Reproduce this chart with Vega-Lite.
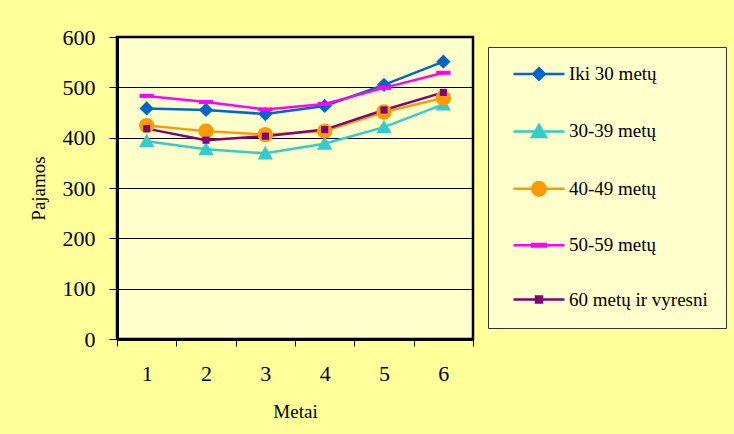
{
  "$schema": "https://vega.github.io/schema/vega-lite/v6.json",
  "autosize": "none",
  "width": 356,
  "height": 302,
  "padding": {"left": 117, "top": 37, "right": 261, "bottom": 95},
  "background": "#FFFF99",
  "config": {
    "font": "Liberation Serif, Times New Roman, serif",
    "view": {"fill": "#FFFFCC", "stroke": "#000000", "strokeWidth": 2.5},
    "axis": {
      "labelFont": "Liberation Serif, Times New Roman, serif", "labelColor": "#000000", "labelFontSize": 22,
      "titleFont": "Liberation Serif, Times New Roman, serif", "titleColor": "#000000", "titleFontSize": 19, "titleFontWeight": "normal",
      "domainColor": "#000000", "domainWidth": 3, "tickColor": "#000000", "tickWidth": 1
    }
  },
  "data": {
    "values": [
      {"year": "1", "series": "Iki 30 metų", "value": 458},
      {"year": "2", "series": "Iki 30 metų", "value": 455},
      {"year": "3", "series": "Iki 30 metų", "value": 447},
      {"year": "4", "series": "Iki 30 metų", "value": 463},
      {"year": "5", "series": "Iki 30 metų", "value": 505},
      {"year": "6", "series": "Iki 30 metų", "value": 551},
      {"year": "1", "series": "30-39 metų", "value": 393},
      {"year": "2", "series": "30-39 metų", "value": 377},
      {"year": "3", "series": "30-39 metų", "value": 369},
      {"year": "4", "series": "30-39 metų", "value": 388},
      {"year": "5", "series": "30-39 metų", "value": 421},
      {"year": "6", "series": "30-39 metų", "value": 466},
      {"year": "1", "series": "40-49 metų", "value": 424},
      {"year": "2", "series": "40-49 metų", "value": 413},
      {"year": "3", "series": "40-49 metų", "value": 406},
      {"year": "4", "series": "40-49 metų", "value": 413},
      {"year": "5", "series": "40-49 metų", "value": 451},
      {"year": "6", "series": "40-49 metų", "value": 479},
      {"year": "1", "series": "50-59 metų", "value": 483},
      {"year": "2", "series": "50-59 metų", "value": 471},
      {"year": "3", "series": "50-59 metų", "value": 456},
      {"year": "4", "series": "50-59 metų", "value": 467},
      {"year": "5", "series": "50-59 metų", "value": 499},
      {"year": "6", "series": "50-59 metų", "value": 529},
      {"year": "1", "series": "60 metų ir vyresni", "value": 418},
      {"year": "2", "series": "60 metų ir vyresni", "value": 395},
      {"year": "3", "series": "60 metų ir vyresni", "value": 403},
      {"year": "4", "series": "60 metų ir vyresni", "value": 416},
      {"year": "5", "series": "60 metų ir vyresni", "value": 455},
      {"year": "6", "series": "60 metų ir vyresni", "value": 490}
    ]
  },
  "encoding": {
    "x": {
      "field": "year", "type": "ordinal", "title": "Metai",
      "scale": {"type": "band", "paddingInner": 0, "paddingOuter": 0},
      "axis": {"labelAngle": 0, "tickBand": "extent", "tickSize": 7, "labelPadding": 17, "titlePadding": 18}
    },
    "y": {
      "field": "value", "type": "quantitative", "title": "Pajamos",
      "scale": {"domain": [0, 600], "nice": false},
      "axis": {"values": [0, 100, 200, 300, 400, 500, 600], "grid": true, "gridColor": "#000000", "gridWidth": 1, "gridOpacity": 1, "tickSize": 8, "labelPadding": 14, "titlePadding": 14}
    }
  },
  "layer": [
    {
      "mark": {"type": "line", "strokeWidth": 2.5},
      "encoding": {
        "color": {
          "field": "series", "type": "nominal", "legend": null,
          "scale": {
            "domain": ["Iki 30 metų", "30-39 metų", "40-49 metų", "50-59 metų", "60 metų ir vyresni"],
            "range": ["#0066CC", "#33CCCC", "#FF9900", "#FF00FF", "#800080"]
          }
        }
      }
    },
    {
      "mark": {"type": "point", "filled": true, "opacity": 1, "size": 2601},
      "encoding": {
        "color": {
          "field": "series", "type": "nominal", "legend": null,
          "scale": {
            "domain": ["Iki 30 metų", "30-39 metų", "40-49 metų", "50-59 metų", "60 metų ir vyresni"],
            "range": ["#0066CC", "#33CCCC", "#FF9900", "#FF00FF", "#800080"]
          }
        },
        "shape": {
          "field": "series", "type": "nominal", "legend": null,
          "scale": {
            "domain": ["Iki 30 metų", "30-39 metų", "40-49 metų", "50-59 metų", "60 metų ir vyresni"],
            "range": [
              "M0,-0.28L0.28,0L0,0.28L-0.28,0Z",
              "M0,-0.29L0.3,0.24L-0.3,0.24Z",
              "M-0.3,0A0.3,0.3 0 1,0 0.3,0A0.3,0.3 0 1,0 -0.3,0Z",
              "M-0.28,-0.08H0.28V0.08H-0.28Z",
              "M-0.14,-0.14H0.14V0.14H-0.14Z"
            ]
          }
        }
      }
    },
    {
      "transform": [{"filter": "false"}],
      "mark": {"type": "point", "filled": true, "opacity": 1, "strokeWidth": 2.5},
      "encoding": {
        "fill": {
          "field": "series", "type": "nominal",
          "scale": {
            "domain": ["Iki 30 metų", "30-39 metų", "40-49 metų", "50-59 metų", "60 metų ir vyresni"],
            "range": ["#0066CC", "#33CCCC", "#FF9900", "#FF00FF", "#800080"]
          }
        },
        "stroke": {
          "field": "series", "type": "nominal",
          "scale": {
            "domain": ["Iki 30 metų", "30-39 metų", "40-49 metų", "50-59 metų", "60 metų ir vyresni"],
            "range": ["#0066CC", "#33CCCC", "#FF9900", "#FF00FF", "#800080"]
          }
        },
        "shape": {
          "field": "series", "type": "nominal",
          "scale": {
            "domain": ["Iki 30 metų", "30-39 metų", "40-49 metų", "50-59 metų", "60 metų ir vyresni"],
            "range": [
              "M-5.1,0H5.1M0,-1.15L1.15,0L0,1.15L-1.15,0Z",
              "M-5.1,0H5.1M0,-1.3L1.4,1.1L-1.4,1.1Z",
              "M-5.1,0H5.1M-1.35,0A1.35,1.35 0 1,0 1.35,0A1.35,1.35 0 1,0 -1.35,0Z",
              "M-5.1,0H5.1M-1.35,-0.25H1.35V0.25H-1.35Z",
              "M-5.1,0H5.1M-0.6,-0.6H0.6V0.6H-0.6Z"
            ]
          },
          "legend": {
            "orient": "none", "legendX": 371, "legendY": 10, "title": null,
            "symbolSize": 100, "symbolStrokeWidth": 2.5, "symbolOffset": 24,
            "labelFont": "Liberation Serif, Times New Roman, serif", "labelFontSize": 19, "labelColor": "#000000", "labelLimit": 400,
            "labelExpr": "datum.label + '\u00a0\u00a0\u00a0\u00a0\u00a0'",
            "labelOffset": 20.5, "padding": 17.5, "rowPadding": 34.4,
            "fillColor": "#FFFFCC", "strokeColor": "#333333"
          }
        }
      }
    }
  ],
  "resolve": {"scale": {"shape": "independent", "fill": "independent", "stroke": "independent"}}
}
